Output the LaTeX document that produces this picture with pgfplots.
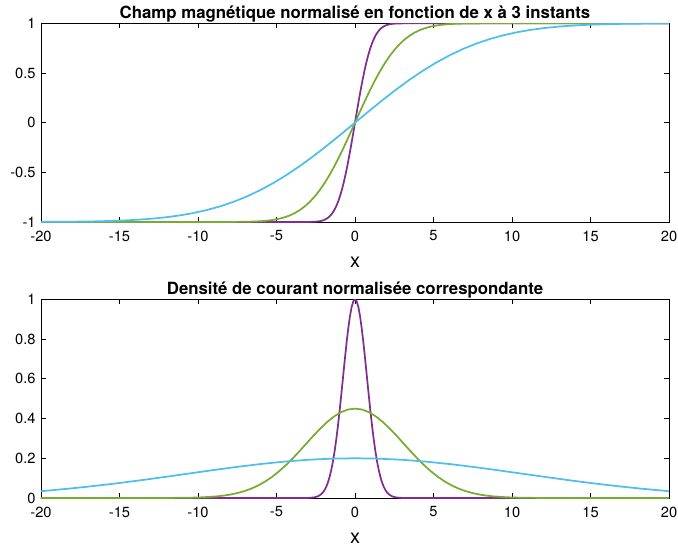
\documentclass[border=0pt]{standalone}
\usepackage{fontspec}
\setmainfont{TeX Gyre Heros}
\usepackage{pgfplots}
\pgfplotsset{compat=1.18}
\definecolor{mpurple}{rgb}{0.494,0.184,0.556}
\definecolor{mgreen}{rgb}{0.466,0.674,0.188}
\definecolor{mblue}{rgb}{0.301,0.745,0.933}
\pgfplotsset{mystyle/.style={
  width=471pt, height=149pt, scale only axis,
  xmin=-20, xmax=20,
  xtick={-20,-15,...,20},
  tick align=inside,
  major tick length=3.5pt,
  tick style={black, line width=0.5pt},
  axis line style={line width=0.5pt},
  ticklabel style={font=\fontsize{11}{13}\selectfont},
  xticklabel style={yshift=-3pt},
  yticklabel style={xshift=-0.5pt},
  /pgf/number format/assume math mode=true,
  /pgf/number format/fixed,
  xlabel={x},
  xlabel style={at={(axis description cs:0.5,0)}, anchor=center, yshift=-30pt, font=\fontsize{15}{17}\selectfont},
  title style={at={(axis description cs:0.5,1)}, anchor=base, inner sep=0pt, yshift=-2pt, font=\bfseries\fontsize{12.6}{14}\selectfont},
  every axis plot/.append style={line width=1.3pt, no markers},
  anchor=south west,
}}
\begin{document}
\begin{tikzpicture}
\useasboundingbox (0,0) rectangle (508.5pt,-409.5pt);
\begin{axis}[mystyle, at={(30.75pt,-166.5pt)},
  ymin=-1, ymax=1, ytick={-1,-0.5,0,0.5,1},
  title={Champ magnétique normalisé en fonction de x à 3 instants}]
\addplot[mpurple] coordinates {
(-20,-1) (-3.0,-0.9996) (-2.64,-0.9981) (-2.4,-0.9953) (-2.28,-0.9928) (-2.16,-0.9891) (-2.04,-0.9838) (-1.92,-0.9763) (-1.8,-0.9661) (-1.68,-0.9523) (-1.56,-0.9340) (-1.44,-0.9103) (-1.32,-0.8802) (-1.2,-0.8427) (-1.08,-0.7969) (-0.96,-0.7421) (-0.84,-0.6778) (-0.72,-0.6039) (-0.6,-0.5205) (-0.48,-0.4284) (-0.36,-0.3286) (-0.24,-0.2227) (-0.12,-0.1125) (0,0)
(0.12,0.1125) (0.24,0.2227) (0.36,0.3286) (0.48,0.4284) (0.6,0.5205) (0.72,0.6039) (0.84,0.6778) (0.96,0.7421) (1.08,0.7969) (1.2,0.8427) (1.32,0.8802) (1.44,0.9103) (1.56,0.9340) (1.68,0.9523) (1.8,0.9661) (1.92,0.9763) (2.04,0.9838) (2.16,0.9891) (2.28,0.9928) (2.4,0.9953) (2.64,0.9981) (3.0,0.9996) (20,1)
};
\addplot[mgreen] coordinates {
(-20,-1) (-9.6,-1.0) (-8.0,-0.9996) (-7.04,-0.9981) (-6.4,-0.9953) (-6.08,-0.9928) (-5.76,-0.9891) (-5.44,-0.9838) (-5.12,-0.9763) (-4.8,-0.9661) (-4.48,-0.9523) (-4.16,-0.9340) (-3.84,-0.9103) (-3.52,-0.8802) (-3.2,-0.8427) (-2.88,-0.7969) (-2.56,-0.7421) (-2.24,-0.6778) (-1.92,-0.6039) (-1.6,-0.5205) (-1.28,-0.4284) (-0.96,-0.3286) (-0.64,-0.2227) (-0.32,-0.1125) (0,0)
(0.32,0.1125) (0.64,0.2227) (0.96,0.3286) (1.28,0.4284) (1.6,0.5205) (1.92,0.6039) (2.24,0.6778) (2.56,0.7421) (2.88,0.7969) (3.2,0.8427) (3.52,0.8802) (3.84,0.9103) (4.16,0.9340) (4.48,0.9523) (4.8,0.9661) (5.12,0.9763) (5.44,0.9838) (5.76,0.9891) (6.08,0.9928) (6.4,0.9953) (7.04,0.9981) (8.0,0.9996) (9.6,1.0) (20,1)
};
\addplot[mblue] coordinates {
(-20,-0.9990) (-18.92,-0.9981) (-17.2,-0.9953) (-16.34,-0.9928) (-15.48,-0.9891) (-14.62,-0.9838) (-13.76,-0.9763) (-12.9,-0.9661) (-12.04,-0.9523) (-11.18,-0.9340) (-10.32,-0.9103) (-9.46,-0.8802) (-8.6,-0.8427) (-7.74,-0.7969) (-6.88,-0.7421) (-6.02,-0.6778) (-5.16,-0.6039) (-4.3,-0.5205) (-3.44,-0.4284) (-2.58,-0.3286) (-1.72,-0.2227) (-0.86,-0.1125) (0,0)
(0.86,0.1125) (1.72,0.2227) (2.58,0.3286) (3.44,0.4284) (4.3,0.5205) (5.16,0.6039) (6.02,0.6778) (6.88,0.7421) (7.74,0.7969) (8.6,0.8427) (9.46,0.8802) (10.32,0.9103) (11.18,0.9340) (12.04,0.9523) (12.9,0.9661) (13.76,0.9763) (14.62,0.9838) (15.48,0.9891) (16.34,0.9928) (17.2,0.9953) (18.92,0.9981) (20,0.9990)
};
\end{axis}
\begin{axis}[mystyle, at={(30.75pt,-373.5pt)},
  ymin=0, ymax=1, ytick={0,0.2,0.4,0.6,0.8,1},
  title={Densité de courant normalisée correspondante}]
\addplot[mpurple] coordinates {
(-20,0) (-3.24,0.0001) (-2.916,0.0007) (-2.592,0.0032) (-2.376,0.0079) (-2.16,0.0183) (-2.052,0.0271) (-1.944,0.0392) (-1.836,0.0556) (-1.728,0.0773) (-1.62,0.1054) (-1.512,0.1409) (-1.404,0.1845) (-1.296,0.2369) (-1.188,0.2982) (-1.08,0.3679) (-0.972,0.4449) (-0.864,0.5273) (-0.756,0.6126) (-0.648,0.6977) (-0.54,0.7788) (-0.432,0.8521) (-0.324,0.9139) (-0.216,0.9608) (-0.108,0.9900) (0,1)
(0.108,0.9900) (0.216,0.9608) (0.324,0.9139) (0.432,0.8521) (0.54,0.7788) (0.648,0.6977) (0.756,0.6126) (0.864,0.5273) (0.972,0.4449) (1.08,0.3679) (1.188,0.2982) (1.296,0.2369) (1.404,0.1845) (1.512,0.1409) (1.62,0.1054) (1.728,0.0773) (1.836,0.0556) (1.944,0.0392) (2.052,0.0271) (2.16,0.0183) (2.376,0.0079) (2.592,0.0032) (2.916,0.0007) (3.24,0.0001) (20,0)
};
\addplot[mgreen] coordinates {
(-20,0) (-13.2,0.0000) (-11.88,0.0003) (-10.56,0.0014) (-9.68,0.0036) (-8.8,0.0082) (-8.36,0.0122) (-7.92,0.0176) (-7.48,0.0250) (-7.04,0.0348) (-6.6,0.0474) (-6.16,0.0634) (-5.72,0.0830) (-5.28,0.1066) (-4.84,0.1342) (-4.4,0.1656) (-3.96,0.2002) (-3.52,0.2373) (-3.08,0.2757) (-2.64,0.3140) (-2.2,0.3505) (-1.76,0.3834) (-1.32,0.4113) (-0.88,0.4324) (-0.44,0.4455) (0,0.45)
(0.44,0.4455) (0.88,0.4324) (1.32,0.4113) (1.76,0.3834) (2.2,0.3505) (2.64,0.3140) (3.08,0.2757) (3.52,0.2373) (3.96,0.2002) (4.4,0.1656) (4.84,0.1342) (5.28,0.1066) (5.72,0.0830) (6.16,0.0634) (6.6,0.0474) (7.04,0.0348) (7.48,0.0250) (7.92,0.0176) (8.36,0.0122) (8.8,0.0082) (9.68,0.0036) (10.56,0.0014) (11.88,0.0003) (13.2,0.0000) (20,0)
};
\addplot[mblue] coordinates {
(-20,0.0340) (-19.76,0.0360) (-18.24,0.0470) (-16.72,0.0596) (-15.2,0.0736) (-13.68,0.0890) (-12.16,0.1055) (-10.64,0.1225) (-9.12,0.1395) (-7.6,0.1558) (-6.08,0.1704) (-4.56,0.1828) (-3.04,0.1922) (-1.52,0.1980) (0,0.2)
(1.52,0.1980) (3.04,0.1922) (4.56,0.1828) (6.08,0.1704) (7.6,0.1558) (9.12,0.1395) (10.64,0.1225) (12.16,0.1055) (13.68,0.0890) (15.2,0.0736) (16.72,0.0596) (18.24,0.0470) (19.76,0.0360) (20,0.0340)
};
\end{axis}
\end{tikzpicture}
\end{document}
